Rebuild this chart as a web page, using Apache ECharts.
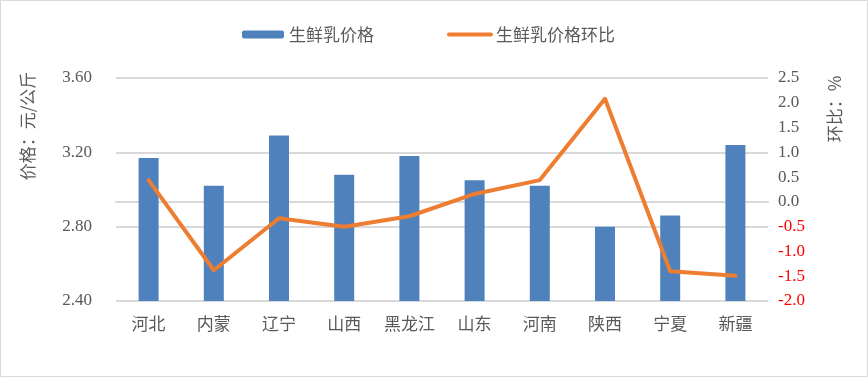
<!DOCTYPE html>
<html>
<head>
<meta charset="utf-8">
<script src="https://cdn.jsdelivr.net/npm/echarts@6/dist/echarts.min.js"></script>
<style>
  html, body { margin: 0; padding: 0; background: #fff; }
  #chart { width: 868px; height: 377px; }
</style>
</head>
<body>
<div id="chart"></div>
<script>
// 数据
const provinces = ["河北", "内蒙", "辽宁", "山西", "黑龙江", "山东", "河南", "陕西", "宁夏", "新疆"];
const milkPrice = [3.17, 3.02, 3.29, 3.08, 3.18, 3.05, 3.02, 2.80, 2.86, 3.24]; // 柱状
const priceChange = [0.44, -1.38, -0.33, -0.50, -0.29, 0.16, 0.44, 2.08, -1.40, -1.49]; // 折线
const legendData = ["生鲜乳价格", "生鲜乳价格环比"];

const numFont = "Liberation Serif, Noto Sans CJK SC";
const cjkFont = "Noto Sans CJK SC";
const textColor = "#595959";

const mychart = echarts.init(document.getElementById("chart"));

let option = {
  animation: false,
  legend: {
    data: [
      { name: legendData[0] },
      {
        name: legendData[1],
        itemStyle: { opacity: 0 }, // 只显示线，不显示拐点
        lineStyle: { width: 4, cap: "round", color: "#ed7d31" },
      },
    ],
    top: 21,
    left: 237,
    itemWidth: 42,
    itemHeight: 8,
    itemGap: 73,
    textStyle: {
      fontSize: 17,
      color: textColor,
      fontFamily: cjkFont,
    },
    selectedMode: false,
  },
  grid: {
    left: 116,
    right: 100,
    top: 78,
    bottom: 76,
    containLabel: false,
  },
  xAxis: {
    type: "category",
    data: provinces,
    axisTick: { show: false },
    axisLine: {
      lineStyle: { color: "#d9d9d9", width: 2 },
    },
    axisLabel: {
      interval: 0,
      color: textColor,
      fontSize: 17,
      fontFamily: cjkFont,
      margin: 14,
    },
  },
  yAxis: [
    {
      type: "value",
      min: 2.4,
      max: 3.6,
      interval: 0.4,
      axisLabel: {
        color: textColor,
        fontSize: 17,
        fontFamily: numFont,
        margin: 24,
        formatter: (v) => v.toFixed(2),
      },
      axisLine: { show: false },
      axisTick: { show: false },
      splitLine: {
        lineStyle: { color: "#d9d9d9", width: 2 },
      },
    },
    {
      type: "value",
      position: "right",
      min: -2,
      max: 2.5,
      interval: 0.5,
      axisLabel: {
        fontSize: 17,
        fontFamily: numFont,
        margin: 10,
        formatter: (v) => v.toFixed(1),
        color: (v) => (Number(v) < 0 ? "#ff0000" : textColor),
      },
      axisLine: { show: false },
      axisTick: { show: false },
      splitLine: { show: false },
    },
  ],
  series: [
    {
      type: "bar",
      name: legendData[0],
      data: milkPrice,
      barWidth: 20,
      itemStyle: { color: "#4f81bd" },
    },
    {
      type: "line",
      name: legendData[1],
      data: priceChange,
      yAxisIndex: 1,
      symbol: "none",
      lineStyle: { color: "#ed7d31", width: 4, cap: "round", join: "round" },
      itemStyle: { color: "#ed7d31" },
    },
  ],
  graphic: [
    {
      type: "rect",
      shape: { x: 0.5, y: 0.5, width: 867, height: 376 },
      style: { fill: "none", stroke: "#d9d9d9", lineWidth: 1 },
      silent: true,
    },
    {
      // 左轴名称
      type: "text",
      x: 28,
      y: 126,
      rotation: Math.PI / 2,
      style: {
        text: "价格：元/公斤",
        fill: textColor,
        fontSize: 17,
        fontFamily: cjkFont,
        align: "center",
        verticalAlign: "middle",
      },
    },
    {
      // 右轴名称
      type: "text",
      x: 835,
      y: 109,
      rotation: Math.PI / 2,
      style: {
        text: "环比：%",
        fill: textColor,
        fontSize: 17,
        fontFamily: cjkFont,
        align: "center",
        verticalAlign: "middle",
      },
    },
  ],
};
option && mychart.setOption(option);
</script>
</body>
</html>
